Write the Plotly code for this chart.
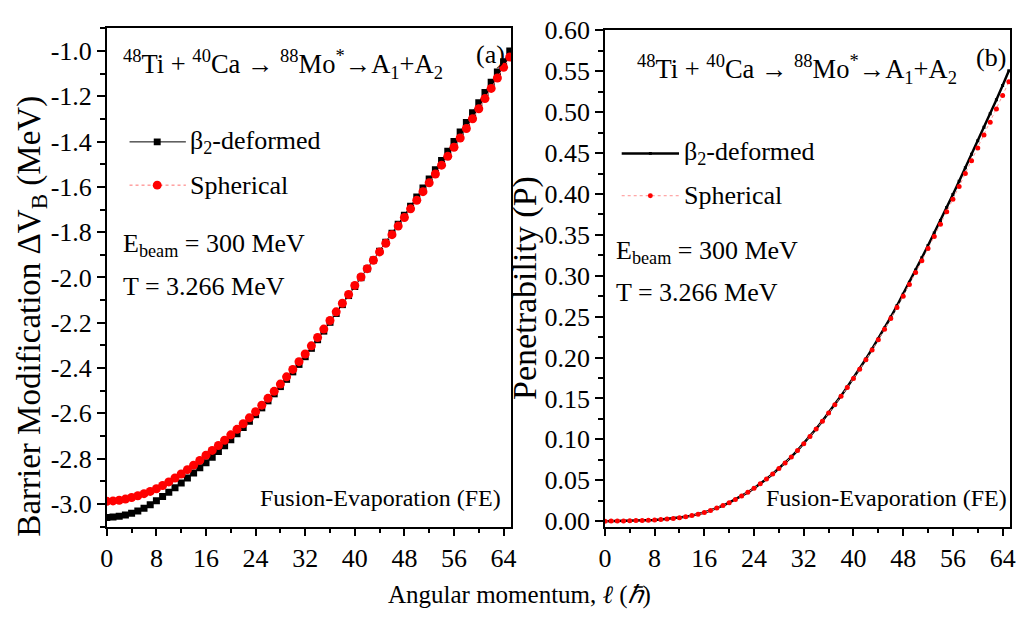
import plotly.graph_objects as go

W, H = 1022, 624

# ---------------- data ----------------
ell = list(range(66))

dvb_deformed = [
    -3.060, -3.058, -3.055, -3.049, -3.041, -3.031, -3.019, -3.004, -2.986, -2.968,
    -2.949, -2.929, -2.908, -2.886, -2.864, -2.841, -2.818, -2.794, -2.769, -2.743,
    -2.717, -2.690, -2.663, -2.635, -2.606, -2.576, -2.545, -2.514, -2.482, -2.450,
    -2.417, -2.384, -2.350, -2.313, -2.275, -2.237, -2.198, -2.159, -2.120, -2.080,
    -2.040, -2.001, -1.962, -1.923, -1.884, -1.845, -1.805, -1.765, -1.725, -1.685,
    -1.645, -1.605, -1.565, -1.524, -1.483, -1.442, -1.400, -1.358, -1.315, -1.272,
    -1.228, -1.183, -1.138, -1.093, -1.047, -1.000]

dvb_spherical = [
    -2.989, -2.987, -2.984, -2.979, -2.972, -2.964, -2.955, -2.945, -2.933, -2.919,
    -2.903, -2.886, -2.868, -2.849, -2.829, -2.808, -2.785, -2.764, -2.742, -2.719,
    -2.695, -2.671, -2.646, -2.620, -2.593, -2.564, -2.534, -2.503, -2.471, -2.439,
    -2.406, -2.372, -2.338, -2.302, -2.265, -2.228, -2.190, -2.152, -2.114, -2.075,
    -2.035, -1.998, -1.961, -1.924, -1.887, -1.849, -1.811, -1.773, -1.735, -1.697,
    -1.659, -1.621, -1.582, -1.543, -1.504, -1.465, -1.425, -1.384, -1.342, -1.299,
    -1.255, -1.210, -1.165, -1.119, -1.072, -1.026]

p_spherical = [
    0.0000, 0.0001, 0.0002, 0.0003, 0.0005, 0.0007, 0.0009, 0.0012, 0.0016, 0.0021,
    0.0027, 0.0034, 0.0043, 0.0054, 0.0068, 0.0086, 0.0107, 0.0132, 0.0160, 0.0191,
    0.0226, 0.0265, 0.0307, 0.0353, 0.0403, 0.0457, 0.0515, 0.0577, 0.0643, 0.0712,
    0.0785, 0.0864, 0.0948, 0.1036, 0.1127, 0.1222, 0.1321, 0.1423, 0.1527, 0.1635,
    0.1745, 0.1857, 0.1973, 0.2093, 0.2217, 0.2345, 0.2477, 0.2612, 0.2751, 0.2894,
    0.3039, 0.3185, 0.3332, 0.3480, 0.3630, 0.3782, 0.3936, 0.4092, 0.4249, 0.4406,
    0.4563, 0.4720, 0.4878, 0.5040, 0.5205, 0.5372]

p_deformed = [
    0.0000, 0.0001, 0.0002, 0.0003, 0.0005, 0.0007, 0.0009, 0.0012, 0.0016, 0.0021,
    0.0027, 0.0034, 0.0043, 0.0054, 0.0068, 0.0086, 0.0107, 0.0132, 0.0160, 0.0191,
    0.0226, 0.0265, 0.0307, 0.0353, 0.0403, 0.0457, 0.0515, 0.0577, 0.0643, 0.0712,
    0.0786, 0.0865, 0.0949, 0.1037, 0.1129, 0.1225, 0.1324, 0.1427, 0.1532, 0.1641,
    0.1751, 0.1865, 0.1983, 0.2105, 0.2231, 0.2361, 0.2495, 0.2633, 0.2775, 0.2921,
    0.3069, 0.3219, 0.3370, 0.3522, 0.3677, 0.3834, 0.3994, 0.4156, 0.4320, 0.4484,
    0.4649, 0.4814, 0.4981, 0.5152, 0.5327, 0.5505]

x_ticks = [0, 8, 16, 24, 32, 40, 48, 56, 64]
left_y_ticks = [-3.0, -2.8, -2.6, -2.4, -2.2, -2.0, -1.8, -1.6, -1.4, -1.2, -1.0]
left_y_labels = ["-3.0", "-2.8", "-2.6", "-2.4", "-2.2", "-2.0", "-1.8", "-1.6", "-1.4", "-1.2", "-1.0"]
right_y_ticks = [0.00, 0.05, 0.10, 0.15, 0.20, 0.25, 0.30, 0.35, 0.40, 0.45, 0.50, 0.55, 0.60]
right_y_labels = ["0.00", "0.05", "0.10", "0.15", "0.20", "0.25", "0.30", "0.35", "0.40", "0.45", "0.50", "0.55", "0.60"]

FONT = "Liberation Serif, Times New Roman, serif"

X_RANGE = [0, 65.2]
LEFT_Y_RANGE = [-3.1, -0.9]
RIGHT_Y_RANGE = [-0.0065, 0.6]


def px(x):
    return x / W


def py(y):
    return 1 - y / H


fig = go.Figure()

# left panel
fig.add_trace(go.Scatter(x=ell, y=dvb_deformed, mode="lines+markers", xaxis="x", yaxis="y",
                         line=dict(color="black", width=1),
                         marker=dict(symbol="square", size=7, color="black"),
                         showlegend=False))
fig.add_trace(go.Scatter(x=ell, y=dvb_spherical, mode="lines+markers", xaxis="x", yaxis="y",
                         line=dict(color="#ff7070", width=1, dash="dot"),
                         marker=dict(symbol="circle", size=9, color="red"),
                         showlegend=False))
# right panel
fig.add_trace(go.Scatter(x=ell, y=p_deformed, mode="lines+markers", xaxis="x2", yaxis="y2",
                         line=dict(color="black", width=2.5),
                         marker=dict(symbol="square", size=3, color="black"),
                         showlegend=False))
fig.add_trace(go.Scatter(x=ell, y=p_spherical, mode="lines+markers", xaxis="x2", yaxis="y2",
                         line=dict(color="#ff9090", width=1, dash="dot"),
                         marker=dict(symbol="circle", size=5, color="red"),
                         showlegend=False))

axis_common = dict(showline=True, linecolor="black", linewidth=1.5, mirror=True,
                   ticks="outside", ticklen=8, tickwidth=1.5, tickcolor="black",
                   showgrid=False, zeroline=False,
                   tickfont=dict(family=FONT, size=26, color="black"))

minor_style = dict(ticks="outside", ticklen=5, tickwidth=1.5, tickcolor="black")

# mirrored (top / right) axes: ticks pointing inward, no labels
mirror_common = dict(showline=False, ticks="inside", ticklen=7, tickwidth=1.5, tickcolor="black",
                     showgrid=False, zeroline=False, showticklabels=False)
minor_in = dict(ticks="inside", ticklen=4, tickwidth=1.5, tickcolor="black")

fig.update_layout(
    width=W, height=H,
    margin=dict(l=0, r=0, t=0, b=0),
    paper_bgcolor="white", plot_bgcolor="white",
    xaxis=dict(domain=[px(101), px(510)], range=X_RANGE, tickvals=x_ticks,
               minor=dict(dtick=4, tick0=0, **minor_style),
               anchor="y", **axis_common),
    yaxis=dict(domain=[py(533), py(15)], range=LEFT_Y_RANGE, tickvals=left_y_ticks,
               ticktext=left_y_labels,
               minor=dict(dtick=0.1, tick0=0, **minor_style),
               anchor="x", **axis_common),
    xaxis2=dict(domain=[px(605), px(1015)], range=X_RANGE, tickvals=x_ticks,
                minor=dict(dtick=4, tick0=0, **minor_style),
                anchor="y2", **axis_common),
    yaxis2=dict(domain=[py(533), py(17)], range=RIGHT_Y_RANGE, tickvals=right_y_ticks,
                ticktext=right_y_labels,
                minor=dict(dtick=0.025, tick0=0, **minor_style),
                anchor="x2", **axis_common),
    xaxis3=dict(overlaying="x", side="top", anchor="y", range=X_RANGE, tickvals=x_ticks,
                minor=dict(dtick=4, tick0=0, **minor_in), **mirror_common),
    yaxis3=dict(overlaying="y", side="right", anchor="x", range=LEFT_Y_RANGE, tickvals=left_y_ticks,
                minor=dict(dtick=0.1, tick0=0, **minor_in), **mirror_common),
    xaxis4=dict(overlaying="x2", side="top", anchor="y2", range=X_RANGE, tickvals=x_ticks,
                minor=dict(dtick=4, tick0=0, **minor_in), **mirror_common),
    yaxis4=dict(overlaying="y2", side="right", anchor="x2", range=RIGHT_Y_RANGE, tickvals=right_y_ticks,
                minor=dict(dtick=0.025, tick0=0, **minor_in), **mirror_common),
)

annotations = []


def text(x, y, t, size, xanchor="left", angle=0):
    annotations.append(dict(x=px(x), y=py(y), xref="paper", yref="paper", text=t,
                            showarrow=False, xanchor=xanchor, yanchor="middle",
                            textangle=angle, borderpad=0,
                            font=dict(family=FONT, size=size, color="black")))


reaction = "<sup>48</sup>Ti + <sup>40</sup>Ca \u2192 <sup>88</sup>Mo<sup>*</sup>\u2192A<sub>1</sub>+A<sub>2</sub>"

# left panel texts
text(116, 52, reaction, 26.5)
text(505, 42, "(a)", 26, xanchor="right")
text(184, 133, "\u03b2<sub>2</sub>-deformed", 26)
text(184, 178, "Spherical", 26)
text(116, 240, "E<sub>beam</sub> = 300 MeV", 26)
text(116, 283, "T = 3.266 MeV", 26)
text(378, 503, "Fusion-Evaporation (FE)", 24, xanchor="center")

# right panel texts
text(636, 57, reaction, 26.5)
text(1012, 45, "(b)", 26, xanchor="right")
text(684, 145, "\u03b2<sub>2</sub>-deformed", 26)
text(684, 189, "Spherical", 26)
text(615, 248, "E<sub>beam</sub> = 300 MeV", 26)
text(615, 290, "T = 3.266 MeV", 26)
text(890, 503, "Fusion-Evaporation (FE)", 24, xanchor="center")

# axis titles
text(25, 314, "Barrier Modification \u0394V<sub>B</sub> (MeV)", 33, xanchor="center", angle=-90)
text(524, 285, "Penetrability (P)", 34, xanchor="center", angle=-90)
text(519, 604, "Angular momentum, <i>\u2113</i> (<i>\u210f</i>)", 25, xanchor="center")

fig.update_layout(annotations=annotations)

# legend keys (drawn as shapes in paper space)
shapes = []


def seg(x0, x1, y, color, width, dash="solid"):
    shapes.append(dict(type="line", xref="paper", yref="paper", x0=px(x0), x1=px(x1),
                       y0=py(y), y1=py(y), line=dict(color=color, width=width, dash=dash)))


def mark(kind, x, y, size, color):
    h = size / 2
    shapes.append(dict(type=kind, xref="paper", yref="paper", x0=px(x - h), x1=px(x + h),
                       y0=py(y + h), y1=py(y - h), fillcolor=color, line=dict(width=0)))


seg(124, 181, 133, "black", 1)
mark("rect", 152, 133, 7, "black")
seg(124, 181, 178, "#ff7070", 1, "dot")
mark("circle", 152, 178, 9, "red")

seg(622, 680, 145, "black", 2.5)
mark("rect", 651, 145, 3, "black")
seg(622, 680, 189, "#ff9090", 1, "dot")
mark("circle", 651, 189, 5, "red")

fig.update_layout(shapes=shapes)

fig.write_html("out.html")
